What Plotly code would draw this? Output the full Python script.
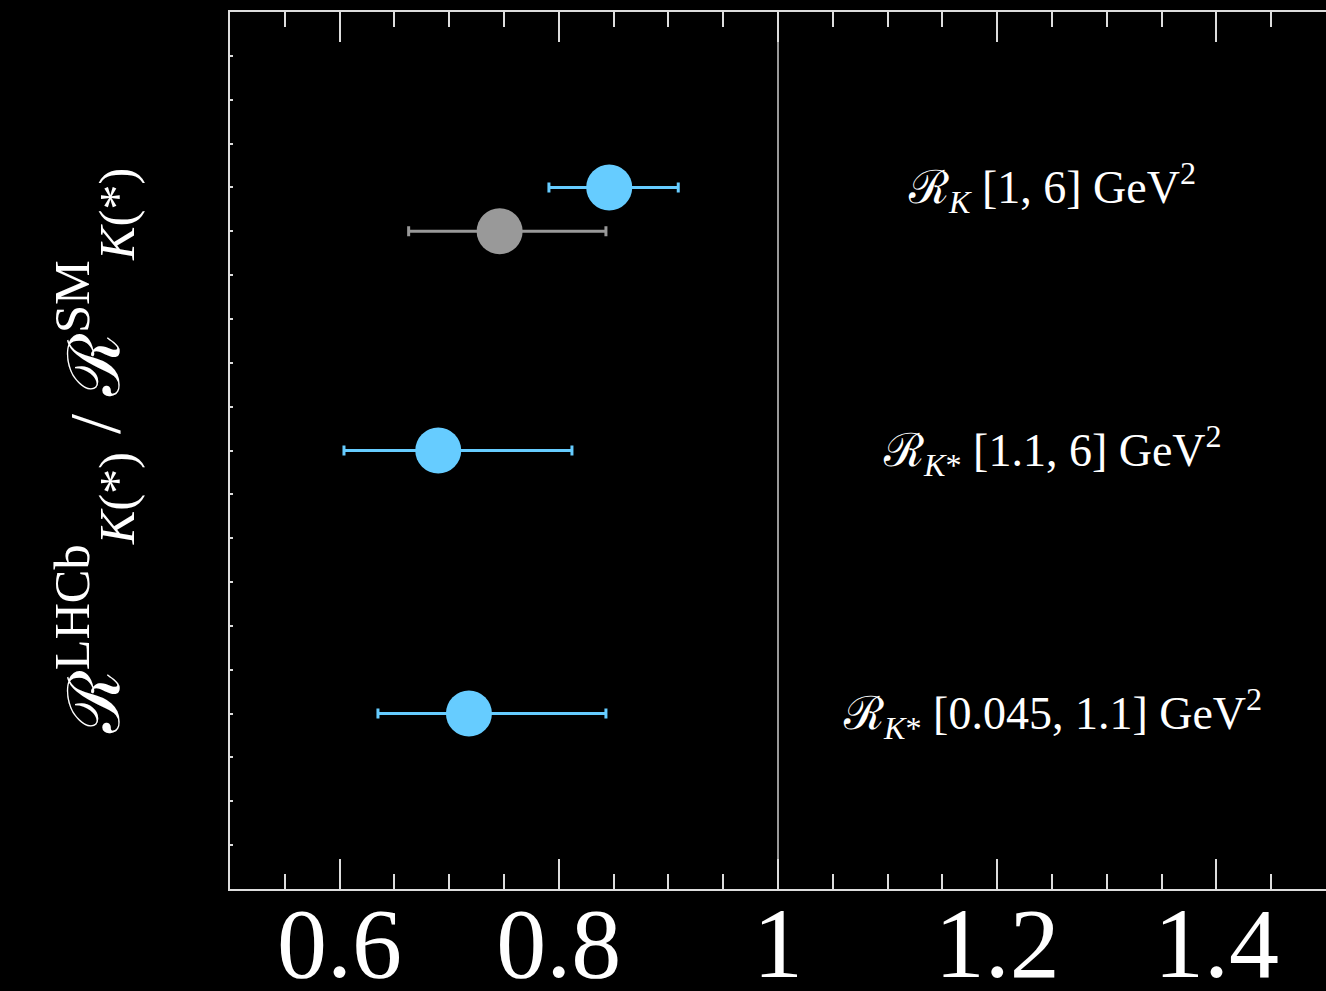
import plotly.graph_objects as go

# ---- data ----
labels = ["ℛ<sub><i>K</i></sub> [1, 6] GeV<sup>2</sup>",
          "ℛ<sub><i>K</i>*</sub> [1.1, 6] GeV<sup>2</sup>",
          "ℛ<sub><i>K</i>*</sub> [0.045, 1.1] GeV<sup>2</sup>"]
label_y = [16, 10, 4]

blue_x = [0.846, 0.690, 0.718]
blue_y = [16, 10, 4]
blue_err_plus = [0.063, 0.122, 0.125]
blue_err_minus = [0.055, 0.086, 0.083]

gray_x = [0.746]
gray_y = [15]
gray_err_plus = [0.097]
gray_err_minus = [0.083]

SM_RATIO = 1.0
x_range = [0.5, 1.5]
y_range = [0, 20]
x_tickvals = [0.6, 0.8, 1.0, 1.2, 1.4]
x_ticktext = ["0.6", "0.8", "1", "1.2", "1.4"]

FONT = "Liberation Serif, DejaVu Serif, serif"
BLUE = "#66ccff"
GRAY = "#999999"
AXIS = "#dddddd"

fig = go.Figure()

fig.add_vline(x=SM_RATIO, line=dict(color="#cccccc", width=1.5), layer="below")

fig.add_trace(go.Scatter(
    x=gray_x, y=gray_y, mode="markers",
    marker=dict(color=GRAY, size=46, line=dict(width=0)),
    error_x=dict(type="data", symmetric=False, array=gray_err_plus,
                 arrayminus=gray_err_minus, color=GRAY, thickness=3, width=5),
    showlegend=False, hoverinfo="x"))

fig.add_trace(go.Scatter(
    x=blue_x, y=blue_y, mode="markers",
    marker=dict(color=BLUE, size=46, line=dict(width=0)),
    error_x=dict(type="data", symmetric=False, array=blue_err_plus,
                 arrayminus=blue_err_minus, color=BLUE, thickness=3, width=5),
    showlegend=False, hoverinfo="x"))

for txt, yy in zip(labels, label_y):
    fig.add_annotation(x=1.25, y=yy, text=txt, showarrow=False,
                       xanchor="center", yanchor="middle",
                       font=dict(family=FONT, size=46, color="white"))

fig.update_xaxes(
    range=x_range, tickmode="array", tickvals=x_tickvals, ticktext=x_ticktext,
    ticks="inside", ticklen=30, tickwidth=2, tickcolor=AXIS,
    minor=dict(ticks="inside", ticklen=15, tickwidth=2, tickcolor=AXIS, dtick=0.05, tick0=0.5,
               showgrid=False),
    showline=True, linecolor=AXIS, linewidth=2, mirror="ticks",
    showgrid=False, zeroline=False, automargin=False,
    ticklabelstandoff=-34,
    tickfont=dict(family=FONT, size=100, color="white"),
)
fig.update_yaxes(
    range=y_range, tickmode="linear", tick0=0, dtick=1,
    ticks="inside", ticklen=3, tickwidth=1.5, tickcolor=AXIS,
    showticklabels=False, showline=True, linecolor=AXIS, linewidth=2,
    showgrid=False, zeroline=False, automargin=False,
    title=dict(text="ℛ<sup>LHCb</sup><sub><i>K</i>(*)</sub> / ℛ<sup>SM</sup><sub><i>K</i>(*)</sub>",
               font=dict(family=FONT, size=72, color="white"), standoff=85),
)

fig.update_layout(
    width=1326, height=991,
    margin=dict(l=230, r=0, t=12, b=102),
    paper_bgcolor="black", plot_bgcolor="black",
    showlegend=False,
)

fig.write_html("out.html")
